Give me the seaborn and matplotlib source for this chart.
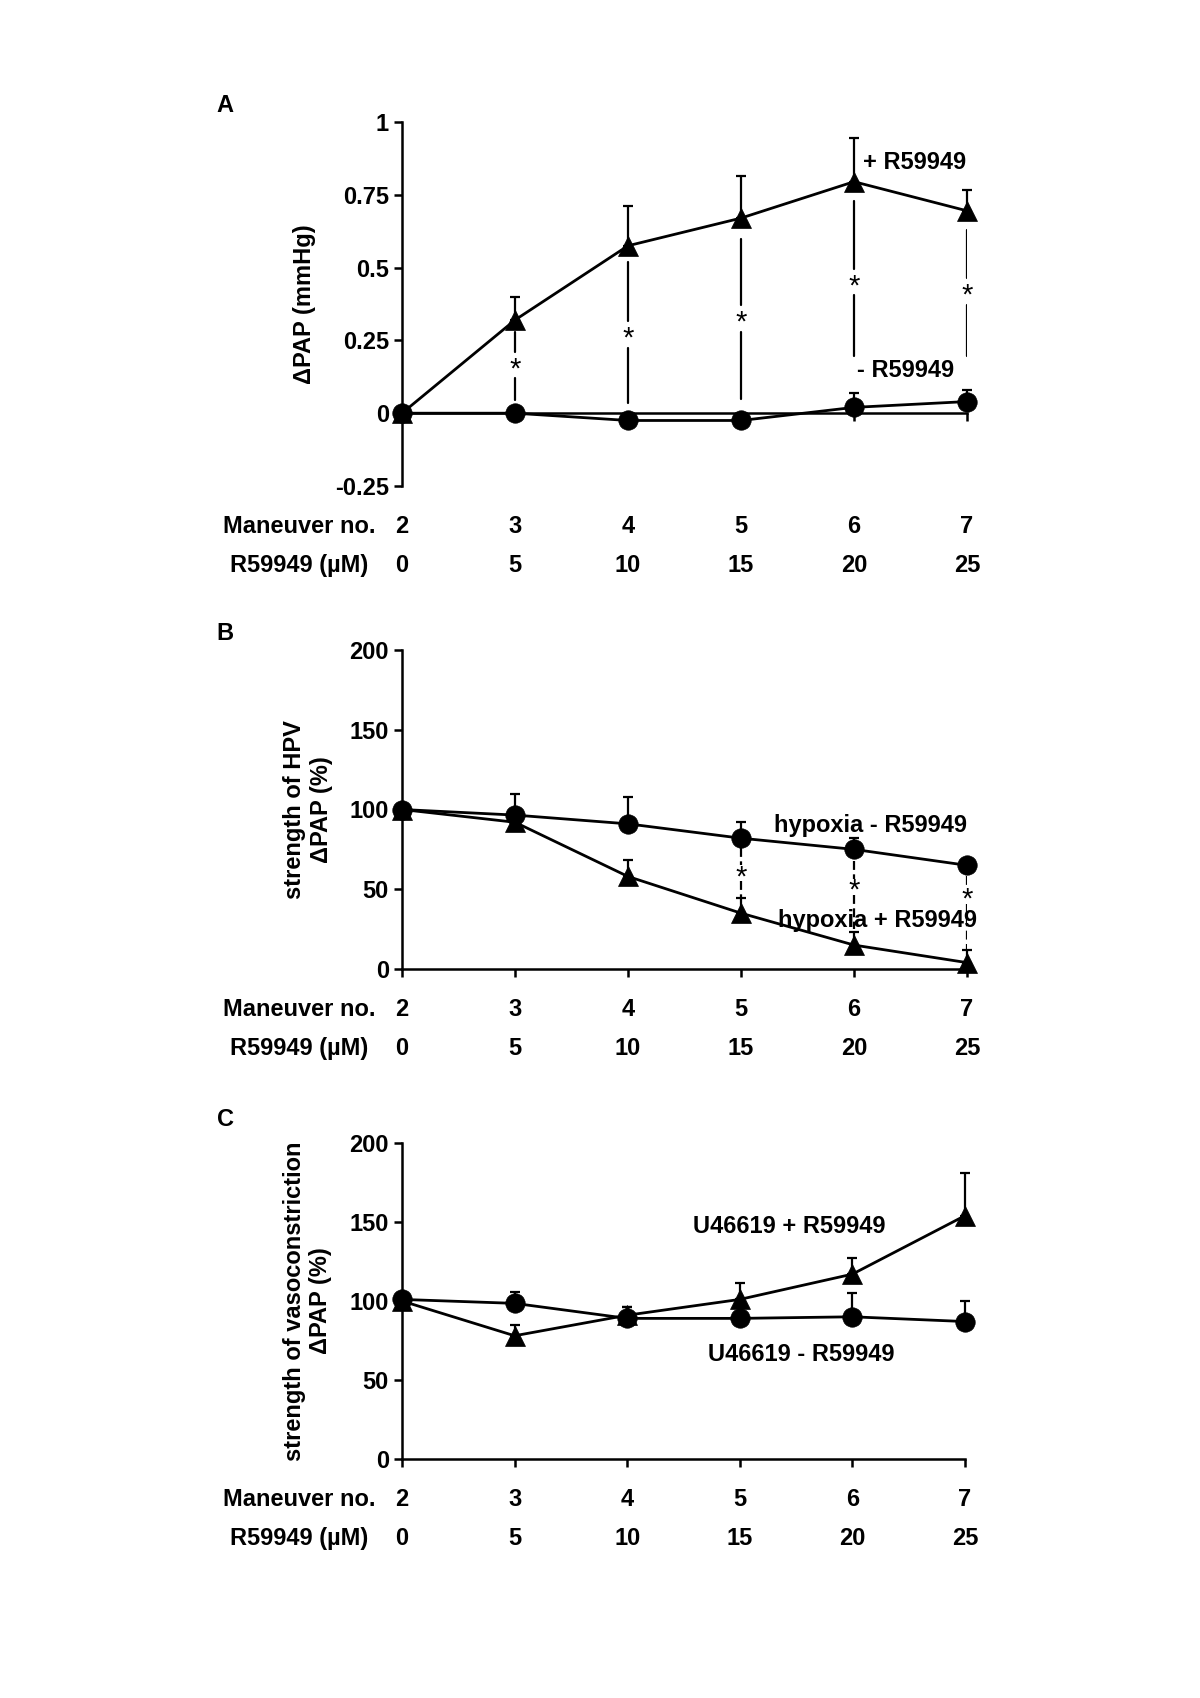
import numpy as np
import pandas as pd
import seaborn as sns
import matplotlib.pyplot as plt

###############################################################################
# data
maneuver = [2, 3, 4, 5, 6, 7]
conc = [0, 5, 10, 15, 20, 25]

# panel A: delta PAP (mmHg)
a_plus = [0, 0.32, 0.575, 0.67, 0.795, 0.695]
a_plus_err = [0, 0.08, 0.135, 0.145, 0.15, 0.07]
a_minus = [0, 0, -0.025, -0.025, 0.02, 0.04]
a_minus_err = [0, 0, 0, 0, 0.05, 0.04]
# significance connectors: top, star, bottom
a_sig_x = [3, 4, 5, 6, 7]
a_sig_top = [0.28, 0.52, 0.597, 0.727, 0.63]
a_sig_star = [0.165, 0.27, 0.325, 0.45, 0.418]
a_sig_bot = [0.045, 0.034, 0.05, 0.195, 0.195]

# panel B: strength of HPV (%)
b_minus = [100, 96.5, 91, 82, 75, 65]
b_minus_err = [0, 13.5, 17, 10, 7, 0]
b_plus = [100, 92, 58, 35, 15, 4]
b_plus_err = [0, 0, 10.5, 9.5, 8.5, 8]
b_sig_x = [5, 6, 7]
b_sig_top = [76, 68, 58]
b_sig_star = [60, 51.5, 46]
b_sig_bot = [45, 25, 12]

# panel C: strength of vasoconstriction (%)
c_minus = [101, 98.5, 89, 89, 90, 87]
c_minus_err = [0, 7, 7, 0, 15, 13]
c_plus = [100, 78, 91, 101, 117, 154]
c_plus_err = [0, 7, 5, 10.5, 10, 27]
###############################################################################

sns.set_theme(style="ticks")
plt.rcParams['font.family'] = ['Liberation Sans', 'DejaVu Sans']
plt.rcParams['font.weight'] = 'bold'
for k in ['text.color', 'axes.labelcolor', 'xtick.color', 'ytick.color', 'axes.edgecolor']:
    plt.rcParams[k] = 'black'

fig = plt.figure(figsize=(12, 16.98), dpi=100)
W, H = 1200, 1698

def add_panel(left_px, right_px, top_px, bottom_px):
    return fig.add_axes([left_px / W, 1 - bottom_px / H,
                         (right_px - left_px) / W, (bottom_px - top_px) / H])

axA = add_panel(402, 967, 122, 486)
axB = add_panel(402, 967, 650, 969)
axC = add_panel(402, 965, 1143, 1459)

def draw_series(ax, y, err, marker, ms):
    df = pd.DataFrame({'x': maneuver, 'y': y})
    sns.lineplot(data=df, x='x', y='y', ax=ax, color='black', lw=2.0,
                 marker=marker, markersize=ms, markeredgecolor='black',
                 markeredgewidth=0.5, clip_on=False, zorder=4)
    ax.errorbar(maneuver, y, yerr=[np.zeros(len(y)), err], fmt='none',
                ecolor='black', elinewidth=1.6, capsize=3.5, capthick=1.6,
                clip_on=False, zorder=3)

def style_axis(ax, yticks, ylabels, ylim, ylabel, label_x):
    ax.set_xlim(2, 7)
    ax.set_ylim(*ylim)
    ax.set_xticks(maneuver)
    ax.set_xticklabels([])
    ax.set_yticks(yticks)
    ax.set_yticklabels(ylabels)
    sns.despine(ax=ax)
    for s in ['left', 'bottom']:
        ax.spines[s].set_linewidth(1.8)
        ax.spines[s].set_color('black')
    ax.tick_params(axis='both', direction='out', length=6, width=1.8,
                   color='black', labelcolor='black', labelsize=17, pad=3.5)
    for t in ax.get_yticklabels():
        t.set_fontweight('bold')
    ax.set_xlabel('')
    ax.set_ylabel(ylabel, fontsize=17, fontweight='bold', linespacing=1.2,
                  color='black')
    ax.yaxis.set_label_coords(label_x, 0.5)
    # rows below the axis
    for m, c in zip(maneuver, conc):
        ax.annotate(str(m), xy=(m, 0), xycoords=('data', 'axes fraction'),
                    xytext=(0, -29), textcoords='offset points',
                    ha='center', va='center', fontsize=17, fontweight='bold')
        ax.annotate(str(c), xy=(m, 0), xycoords=('data', 'axes fraction'),
                    xytext=(0, -57), textcoords='offset points',
                    ha='center', va='center', fontsize=17, fontweight='bold')
    ax.annotate('Maneuver no.', xy=(2, 0), xycoords=('data', 'axes fraction'),
                xytext=(-19, -29), textcoords='offset points',
                ha='right', va='center', fontsize=17, fontweight='bold')
    ax.annotate('R59949 (µM)', xy=(2, 0), xycoords=('data', 'axes fraction'),
                xytext=(-24, -57), textcoords='offset points',
                ha='right', va='center', fontsize=17, fontweight='bold')

def sig_marks(ax, xs, tops, stars, bots, gap, dashed):
    ls = (0, (4, 2)) if dashed else '-'
    for x, t, s, b in zip(xs, tops, stars, bots):
        ax.plot([x, x], [t, s + gap], color='black', lw=1.6, ls=ls, zorder=2)
        ax.plot([x, x], [s - gap, b], color='black', lw=1.6, ls=ls, zorder=2)
        ax.annotate('*', xy=(x, s), xytext=(0, -3), textcoords='offset points',
                    ha='center', va='center', fontsize=21,
                    fontweight='normal', zorder=5)

# panel A
draw_series(axA, a_plus, a_plus_err, '^', 14)
draw_series(axA, a_minus, a_minus_err, 'o', 14)
style_axis(axA, [-0.25, 0, 0.25, 0.5, 0.75, 1],
           ['-0.25', '0', '0.25', '0.5', '0.75', '1'], (-0.25, 1),
           'ΔPAP (mmHg)', -0.152)
axA.spines['bottom'].set_position(('data', 0))
sig_marks(axA, a_sig_x, a_sig_top, a_sig_star, a_sig_bot, 0.045, False)
axA.text(6.08, 0.86, '+ R59949', fontsize=17, fontweight='bold', va='center')
axA.text(6.03, 0.145, '- R59949', fontsize=17, fontweight='bold', va='center')

# panel B
draw_series(axB, b_minus, b_minus_err, 'o', 14)
draw_series(axB, b_plus, b_plus_err, '^', 14)
style_axis(axB, [0, 50, 100, 150, 200], ['0', '50', '100', '150', '200'],
           (0, 200), 'strength of HPV\nΔPAP (%)', -0.122)
sig_marks(axB, b_sig_x, b_sig_top, b_sig_star, b_sig_bot, 5, True)
axB.text(5.29, 90, 'hypoxia - R59949', fontsize=17, fontweight='bold', va='center')
axB.text(5.33, 30.5, 'hypoxia + R59949', fontsize=17, fontweight='bold', va='center')

# panel C
draw_series(axC, c_minus, c_minus_err, 'o', 14)
draw_series(axC, c_plus, c_plus_err, '^', 14)
style_axis(axC, [0, 50, 100, 150, 200], ['0', '50', '100', '150', '200'],
           (0, 200), 'strength of vasoconstriction\nΔPAP (%)', -0.124)
axC.text(4.58, 147, 'U46619 + R59949', fontsize=17, fontweight='bold', va='center')
axC.text(4.72, 66, 'U46619 - R59949', fontsize=17, fontweight='bold', va='center')

# panel letters
for lab, ypx in [('A', 106), ('B', 634), ('C', 1119)]:
    fig.text(225 / W, 1 - ypx / H, lab, fontsize=17, fontweight='bold',
             ha='center', va='center')

plt.savefig('out.png', dpi=100, facecolor='white')
